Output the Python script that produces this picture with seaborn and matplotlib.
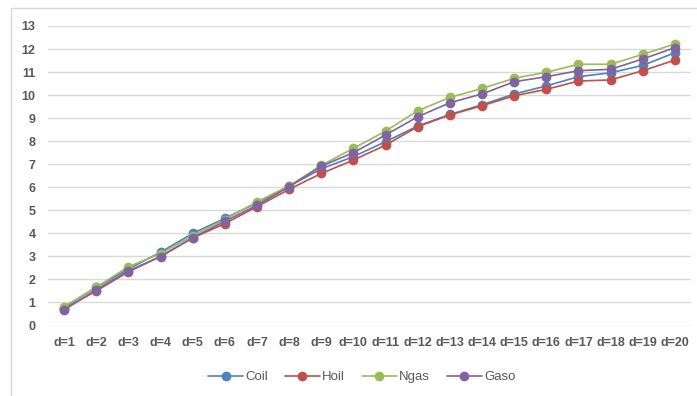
import matplotlib
matplotlib.use("Agg")
import matplotlib.pyplot as plt
import seaborn as sns
import pandas as pd
from matplotlib.patches import Rectangle

# Categories and series values
categories = [f"d={i}" for i in range(1, 21)]
coil = [0.78, 1.66, 2.45, 3.18, 4.0, 4.65, 5.32, 6.05, 6.8, 7.33,
        7.98, 8.66, 9.16, 9.58, 10.05, 10.4, 10.8, 10.97, 11.29, 11.84]
hoil = [0.72, 1.5, 2.33, 3.0, 3.8, 4.42, 5.16, 5.91, 6.6, 7.18,
        7.83, 8.63, 9.14, 9.54, 9.97, 10.25, 10.61, 10.66, 11.06, 11.52]
ngas = [0.82, 1.66, 2.55, 3.12, 3.9, 4.6, 5.37, 6.06, 6.95, 7.69,
        8.44, 9.32, 9.9, 10.29, 10.73, 10.99, 11.34, 11.34, 11.77, 12.22]
gaso = [0.67, 1.56, 2.37, 2.99, 3.81, 4.52, 5.22, 6.02, 6.92, 7.5,
        8.27, 9.06, 9.67, 10.05, 10.58, 10.8, 11.06, 11.12, 11.57, 12.06]
series_names = ["Coil", "Hoil", "Ngas", "Gaso"]
y_ticks = list(range(0, 14))

palette = {"Coil": "#4F81BD", "Hoil": "#C0504D", "Ngas": "#9BBB59", "Gaso": "#8064A2"}

df = pd.DataFrame({
    "cat": categories * 4,
    "pos": list(range(len(categories))) * 4,
    "value": coil + hoil + ngas + gaso,
    "series": sum([[n] * len(categories) for n in series_names], []),
})

sns.set_style("white")
plt.rcParams["font.family"] = ["Liberation Sans", "DejaVu Sans"]

fig = plt.figure(figsize=(6.97, 3.96), dpi=100)
ax = fig.add_axes([48 / 697, 70.5 / 396, 643 / 697, 299.5 / 396])

# Chart frame
fig.patches.append(Rectangle((11 / 697, -0.05), 1.2, (396 - 7.5) / 396 + 0.05,
                             transform=fig.transFigure, fill=False,
                             edgecolor="#D9D9D9", linewidth=1.0, zorder=0))

sns.lineplot(data=df, x="pos", y="value", hue="series", hue_order=series_names,
             palette=palette, marker="o", markersize=7, markeredgewidth=0,
             linewidth=1.2, ax=ax, legend=True)

ax.set_xlim(-0.5, len(categories) - 0.5)
ax.set_ylim(0, 13)
ax.set_yticks(y_ticks)
ax.set_yticklabels([str(t) for t in y_ticks])
ax.set_xticks(range(len(categories)))
ax.set_xticklabels(categories)
ax.grid(axis="y", color="#D9D9D9", linewidth=1.0)
ax.grid(axis="x", visible=False)
ax.set_axisbelow(True)
for s in ax.spines.values():
    s.set_visible(False)
ax.set_xlabel("")
ax.set_ylabel("")
ax.tick_params(axis="y", length=0, pad=9, labelsize=9, labelcolor="#595959")
ax.tick_params(axis="x", length=0, pad=8, labelsize=9, labelcolor="#595959")
for lab in ax.get_xticklabels() + ax.get_yticklabels():
    lab.set_fontweight("bold")

handles, labels = ax.get_legend_handles_labels()
ax.legend_.remove()
leg = fig.legend(handles, labels, loc="center", bbox_to_anchor=(362 / 697, 19 / 396),
                 ncol=4, frameon=False, fontsize=9.5, handlelength=2.6,
                 handletextpad=0.2, columnspacing=1.3)
for t in leg.get_texts():
    t.set_color("#595959")

fig.savefig("out.png", dpi=100)
